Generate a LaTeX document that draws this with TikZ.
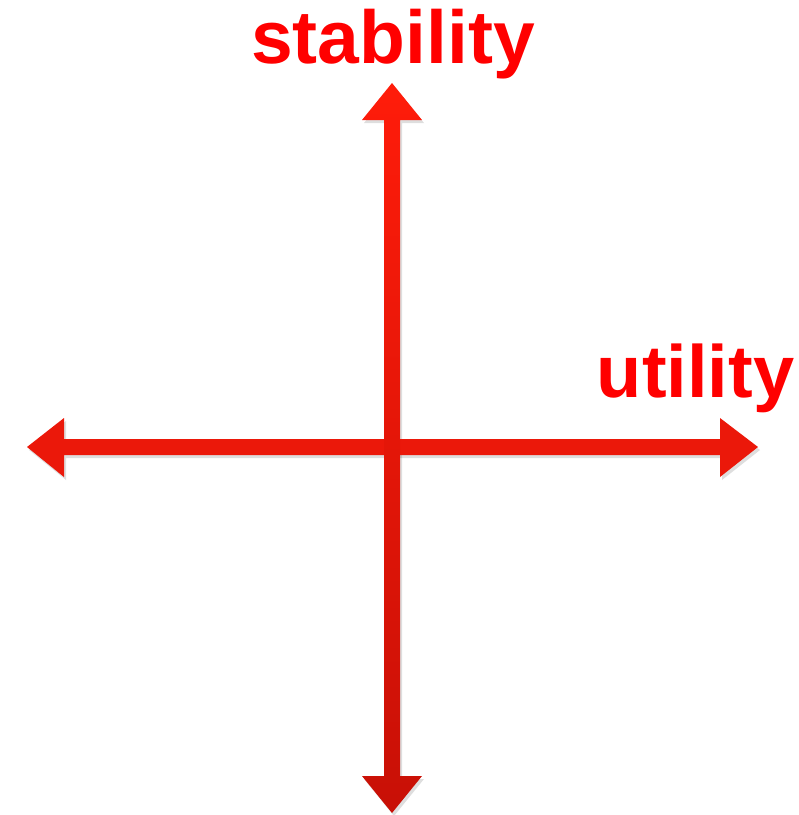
\documentclass[tikz,border=0pt]{standalone}
\usepackage{fontspec}
\setmainfont{Liberation Sans}
\definecolor{arrtop}{RGB}{255,28,10}
\definecolor{arrbot}{RGB}{200,16,6}
\definecolor{arrmid}{RGB}{235,24,10}
\definecolor{lblred}{RGB}{255,0,0}
\begin{document}
\begin{tikzpicture}[x=1pt,y=-1pt,
  lbl/.style={text=lblred,font=\bfseries,inner sep=0pt,anchor=base},
  shadowpoly/.style={fill=black,opacity=0.13}]
\useasboundingbox (0,0) rectangle (799,815);
% vertical arrow coordinates
\coordinate (vt) at (392,83);
\coordinate (vb) at (392,813);
% horizontal arrow coordinates
\coordinate (hl) at (27,447);
\coordinate (hr) at (758,447);
% shadows
\fill[shadowpoly,shift={(2,3)}] (27,447) -- (64,418) -- (64,439) -- (720,439) -- (720,418) -- (758,447) -- (720,477) -- (720,455) -- (64,455) -- (64,477) -- cycle;
\fill[shadowpoly,shift={(2,3)}] (392,83) -- (422,120) -- (400,120) -- (400,776) -- (422,776) -- (392,813) -- (362,776) -- (384,776) -- (384,120) -- (362,120) -- cycle;
% horizontal arrow
\fill[arrmid] (hl) -- (64,418) -- (64,439) -- (720,439) -- (720,418) -- (hr) -- (720,477) -- (720,455) -- (64,455) -- (64,477) -- cycle;
% vertical arrow
\shade[top color=arrtop,bottom color=arrbot] (vt) -- (422,120) -- (400,120) -- (400,776) -- (422,776) -- (vb) -- (362,776) -- (384,776) -- (384,120) -- (362,120) -- cycle;
% labels
\node[lbl,font=\bfseries\fontsize{75}{75}\selectfont] (stab) at (393,63) {stability};
\node[lbl,font=\bfseries\fontsize{74}{74}\selectfont] (util) at (695.5,397) {utility};
\end{tikzpicture}
\end{document}
